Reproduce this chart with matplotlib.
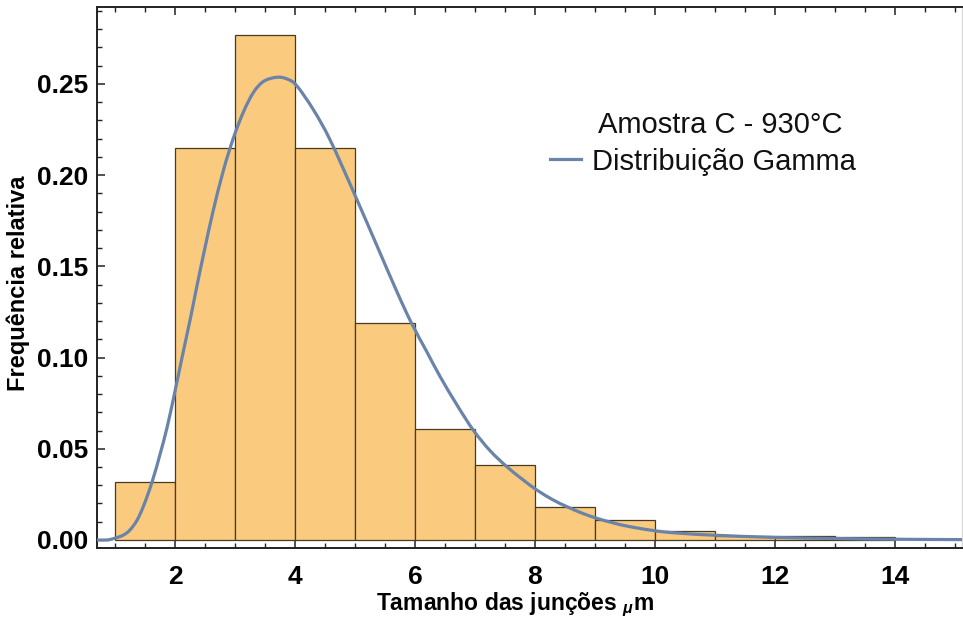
import matplotlib
matplotlib.use("Agg")
import matplotlib.pyplot as plt
from matplotlib.ticker import MultipleLocator, FormatStrFormatter
from matplotlib.lines import Line2D
from matplotlib.path import Path
from matplotlib.patches import PathPatch

plt.rcParams['font.family'] = ['Liberation Sans', 'DejaVu Sans']
plt.rcParams['mathtext.fontset'] = 'custom'
plt.rcParams['mathtext.rm'] = 'Liberation Sans:bold'
plt.rcParams['mathtext.it'] = 'Liberation Sans:italic:bold'
plt.rcParams['mathtext.bf'] = 'Liberation Sans:bold'

# histogram data (bin edges and relative frequencies)
bin_edges = [1, 2, 3, 4, 5, 6, 7, 8, 9, 10, 11, 12, 13, 14]
rel_freq = [0.032, 0.2147, 0.2769, 0.2147, 0.1188, 0.0607, 0.0411,
            0.0181, 0.0108, 0.0051, 0.0022, 0.0022, 0.0016]

# gamma distribution curve
curve_x = [0.70, 0.87, 1.00, 1.14, 1.25, 1.37, 1.48, 1.62, 1.755, 1.87, 1.99,
           2.117, 2.26, 2.37, 2.505, 2.64, 2.81, 2.98, 3.145, 3.31, 3.48,
           3.70, 3.87, 4.03, 4.31, 4.59, 4.98, 5.37, 5.70, 5.94, 6.20, 6.42,
           6.70, 6.97, 7.25, 7.53, 7.80, 8.03, 8.30, 8.53, 8.80, 9.03, 9.30,
           9.58, 10.03, 10.42, 11.0, 12.0, 13.0, 14.0, 15.12]
curve_y = [0.0, 0.0, 0.001, 0.0027, 0.0055, 0.011, 0.019, 0.032, 0.0475,
           0.062, 0.080, 0.100, 0.122, 0.140, 0.161, 0.181, 0.203, 0.221,
           0.235, 0.2455, 0.2515, 0.2537, 0.2527, 0.249, 0.2357, 0.219,
           0.1905, 0.161, 0.136, 0.119, 0.103, 0.0895, 0.074, 0.0603, 0.049,
           0.0402, 0.033, 0.0274, 0.022, 0.0183, 0.0145, 0.0119, 0.0094,
           0.0073, 0.0049, 0.0037, 0.0026, 0.0014, 0.0008, 0.0004, 0.0002]

legend_title = "Amostra C - 930°C"
curve_label = "Distribuição Gamma"
xlabel = "Tamanho das junções $_{\\mu}$m"
ylabel = "Frequência relativa"
xticks = [2, 4, 6, 8, 10, 12, 14]
yticks = [0.00, 0.05, 0.10, 0.15, 0.20, 0.25]

bar_color = '#FACB7E'
edge_color = '#4a3a22'
curve_color = '#6a83a9'


def smooth_path(xs, ys):
    """Catmull-Rom path through the read points, drawn as cubic Beziers."""
    pts = list(zip(xs, ys))
    verts = [pts[0]]
    codes = [Path.MOVETO]
    n = len(pts)
    for i in range(n - 1):
        p0 = pts[i - 1] if i > 0 else pts[i]
        p1 = pts[i]
        p2 = pts[i + 1]
        p3 = pts[i + 2] if i + 2 < n else pts[i + 1]
        c1 = (p1[0] + (p2[0] - p0[0]) / 6.0, p1[1] + (p2[1] - p0[1]) / 6.0)
        c2 = (p2[0] - (p3[0] - p1[0]) / 6.0, p2[1] - (p3[1] - p1[1]) / 6.0)
        verts += [c1, c2, p2]
        codes += [Path.CURVE4] * 3
    return Path(verts, codes)


fig = plt.figure(figsize=(9.63, 6.2), dpi=100)
ax = fig.add_axes([97/963, 1 - 548/620, (962 - 97)/963, (548 - 7)/620])

widths = [bin_edges[i + 1] - bin_edges[i] for i in range(len(rel_freq))]
ax.bar(bin_edges[:-1], rel_freq, width=widths, align='edge',
       color=bar_color, edgecolor=edge_color, linewidth=0.9, zorder=2)
ax.add_patch(PathPatch(smooth_path(curve_x, curve_y), fill=False,
                       edgecolor=curve_color, linewidth=2.3, zorder=3,
                       capstyle='round', joinstyle='round'))

ax.set_xlim(0.70, 15.117)
ax.set_ylim(-0.0044, 0.2922)

ax.xaxis.set_minor_locator(MultipleLocator(0.5))
ax.yaxis.set_minor_locator(MultipleLocator(0.01))
ax.set_xticks(xticks)
ax.set_yticks(yticks)
ax.yaxis.set_major_formatter(FormatStrFormatter('%.2f'))

ax.tick_params(axis='both', which='both', direction='in', top=True,
               right=False, color='#222222')
ax.tick_params(axis='both', which='major', length=5.5, width=1.1)
ax.tick_params(axis='both', which='minor', length=3.5, width=1.0)
ax.tick_params(axis='x', which='major', pad=12)
ax.tick_params(axis='y', which='major', pad=6)
for lab in ax.get_xticklabels() + ax.get_yticklabels():
    lab.set_fontsize(19)
    lab.set_fontweight('bold')

for s in ['left', 'bottom', 'top']:
    ax.spines[s].set_color('#222222')
    ax.spines[s].set_linewidth(1.4)
ax.spines['right'].set_color('#d8d8d8')
ax.spines['right'].set_linewidth(1.0)

ax.set_xlabel(xlabel, fontsize=16.5, fontweight='bold')
ax.xaxis.set_label_coords(0.483, -0.078)
ax.set_ylabel(ylabel, fontsize=17, fontweight='bold')
ax.yaxis.set_label_coords(-0.078, 0.49)

# legend
ax.add_line(Line2D([(550 - 97)/865, (581 - 97)/865], [(548 - 159)/541] * 2,
                   transform=ax.transAxes, color=curve_color, linewidth=2.3))
ax.text((598 - 97)/865, (548 - 133)/541, legend_title, transform=ax.transAxes,
        fontsize=21, va='baseline', ha='left', color='#111111')
ax.text((592 - 97)/865, (548 - 170)/541, curve_label, transform=ax.transAxes,
        fontsize=21, va='baseline', ha='left', color='#111111')

fig.savefig('out.png', dpi=100, facecolor='white')
